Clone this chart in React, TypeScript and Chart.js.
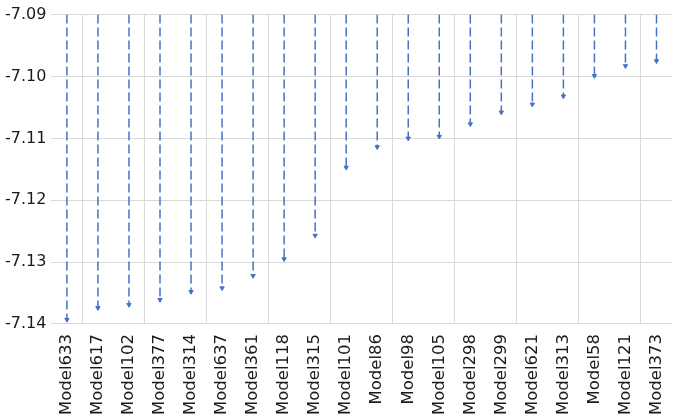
import React, { useEffect, useRef } from "react";
import { Chart, registerables } from "chart.js";

Chart.register(...registerables);

const labels = [
  "Model633", "Model617", "Model102", "Model377", "Model314", "Model637", "Model361",
  "Model118", "Model315", "Model101", "Model86", "Model98", "Model105", "Model298",
  "Model299", "Model621", "Model313", "Model58", "Model121", "Model373",
];
const values = [
  -7.1393, -7.1374, -7.1369, -7.1361, -7.1348, -7.1342, -7.1322,
  -7.1295, -7.1257, -7.1147, -7.1114, -7.1100, -7.1097, -7.1077,
  -7.1058, -7.1045, -7.1032, -7.0999, -7.0983, -7.0975,
];
const axisTop = -7.09;
const axisBottom = -7.14;
const yTicks = [-7.09, -7.1, -7.11, -7.12, -7.13, -7.14];

const FONT = "'DejaVu Sans', sans-serif";

export default function App() {
  const ref = useRef<HTMLCanvasElement | null>(null);
  useEffect(() => {
    if (!ref.current) return;
    const points: any[] = [];
    labels.forEach((l, i) => {
      points.push({ x: l, y: axisTop });
      points.push({ x: l, y: values[i] });
      points.push({ x: l, y: null });
    });
    const chart = new Chart(ref.current, {
      type: "line",
      data: {
        labels,
        datasets: [
          {
            data: points,
            borderColor: "#4472C4",
            backgroundColor: "#4472C4",
            borderWidth: 1.5,
            borderDash: [9, 4],
            spanGaps: false,
            pointStyle: "triangle",
            rotation: 180,
            pointRadius: (ctx: any) => (ctx.dataIndex % 3 === 1 ? 2.5 : 0),
            pointHoverRadius: 0,
            pointBorderWidth: 1,
          } as any,
        ],
      },
      options: {
        animation: false,
        responsive: true,
        maintainAspectRatio: false,
        layout: { padding: { top: 4, right: 3, bottom: -5, left: 0 } },
        plugins: { legend: { display: false }, tooltip: { enabled: false } },
        scales: {
          x: {
            type: "category",
            offset: true,
            afterFit: (axis: any) => {
              axis.paddingRight = 0;
              axis.paddingLeft = 0;
            },
            grid: {
              offset: true,
              drawTicks: false,
              color: (ctx: any) => (ctx.index % 2 === 1 ? "#d9d9d9" : "rgba(0,0,0,0)"),
              lineWidth: 1,
            },
            border: { display: false },
            ticks: {
              minRotation: 90,
              maxRotation: 90,
              autoSkip: false,
              padding: 10,
              color: "#1a1a1a",
              font: { family: FONT, size: 16.5 },
            },
          },
          y: {
            min: axisBottom,
            max: axisTop,
            afterBuildTicks: (axis: any) => {
              axis.ticks = yTicks.map((v) => ({ value: v }));
            },
            grid: { drawTicks: false, color: "#d9d9d9", lineWidth: 1 },
            border: { display: false },
            ticks: {
              padding: 5,
              color: "#1a1a1a",
              font: { family: FONT, size: 16 },
              callback: (v: any) => Number(v).toFixed(2),
            },
          },
        },
      },
    });
    return () => chart.destroy();
  }, []);
  return (
    <div style={{ position: "absolute", left: 0, top: 0, width: 675, height: 420 }}>
      <canvas ref={ref} />
    </div>
  );
}
